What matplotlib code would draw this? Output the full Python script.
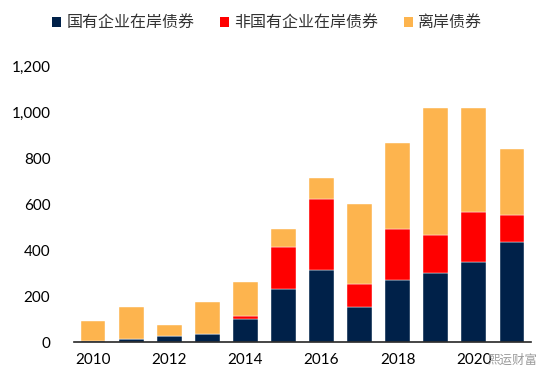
import matplotlib
matplotlib.use("Agg")
import matplotlib.pyplot as plt
import matplotlib.ticker as ticker
from matplotlib.patches import Patch
import numpy as np

# data (units as on the y axis)
years = [2010, 2011, 2012, 2013, 2014, 2015, 2016, 2017, 2018, 2019, 2020, 2021]
soe_onshore = [4, 12, 25, 36, 98, 232, 314, 152, 270, 301, 349, 433]
non_soe_onshore = [0, 0, 0, 0, 13, 182, 309, 102, 221, 164, 215, 120]
offshore = [88, 140, 47, 139, 151, 77, 90, 346, 373, 554, 455, 287]
series_names = ["国有企业在岸债券", "非国有企业在岸债券", "离岸债券"]
colors = ["#002149", "#FF0000", "#FDB44E"]

plt.rcParams['font.family'] = ['Lato', 'Noto Sans CJK SC', 'DejaVu Sans']

fig = plt.figure(figsize=(5.53, 3.82), dpi=100)
ax = fig.add_axes([74 / 553, 1 - 342 / 382, (531 - 74) / 553, (342 - 66) / 382])

x = np.arange(len(years))
w = 0.65
b1 = np.array(soe_onshore)
b2 = b1 + np.array(non_soe_onshore)
ax.bar(x, soe_onshore, w, color=colors[0], edgecolor="white", linewidth=0.3)
ax.bar(x, non_soe_onshore, w, bottom=b1, color=colors[1], edgecolor="white", linewidth=0.3)
ax.bar(x, offshore, w, bottom=b2, color=colors[2], edgecolor="white", linewidth=0.3)

ax.set_xlim(-0.5, len(years) - 0.5)
ax.set_ylim(0, 1200)
ax.yaxis.set_major_locator(ticker.MultipleLocator(200))
ax.yaxis.set_major_formatter(ticker.FuncFormatter(lambda v, pos: f"{int(v):,}"))

# only every other year labelled
ax.set_xticks(x[::2])
ax.set_xticklabels([str(y) for y in years[::2]])

for s in ["top", "right", "left"]:
    ax.spines[s].set_visible(False)
ax.spines["bottom"].set_color("#262626")
ax.spines["bottom"].set_linewidth(1.2)
ax.tick_params(axis="both", length=0, labelsize=11, colors="black")
ax.tick_params(axis="y", pad=17)
ax.tick_params(axis="x", pad=8)

handles = [Patch(facecolor=c) for c in colors]
fig.legend(handles, series_names, loc="center", bbox_to_anchor=(267 / 553, 1 - 23 / 382),
           ncol=3, frameon=False, handlelength=0.6, handleheight=0.6,
           handletextpad=0.3, columnspacing=1.6,
           prop={"family": "Noto Sans CJK SC", "size": 11.5}, labelcolor="#333333")

# watermark
fig.text(538 / 553, 1 - 360 / 382, "熙运财富", ha="right", va="center",
         fontsize=9, color="#9a9a9a", family="Noto Sans CJK SC")

fig.savefig("out.png", dpi=100)
